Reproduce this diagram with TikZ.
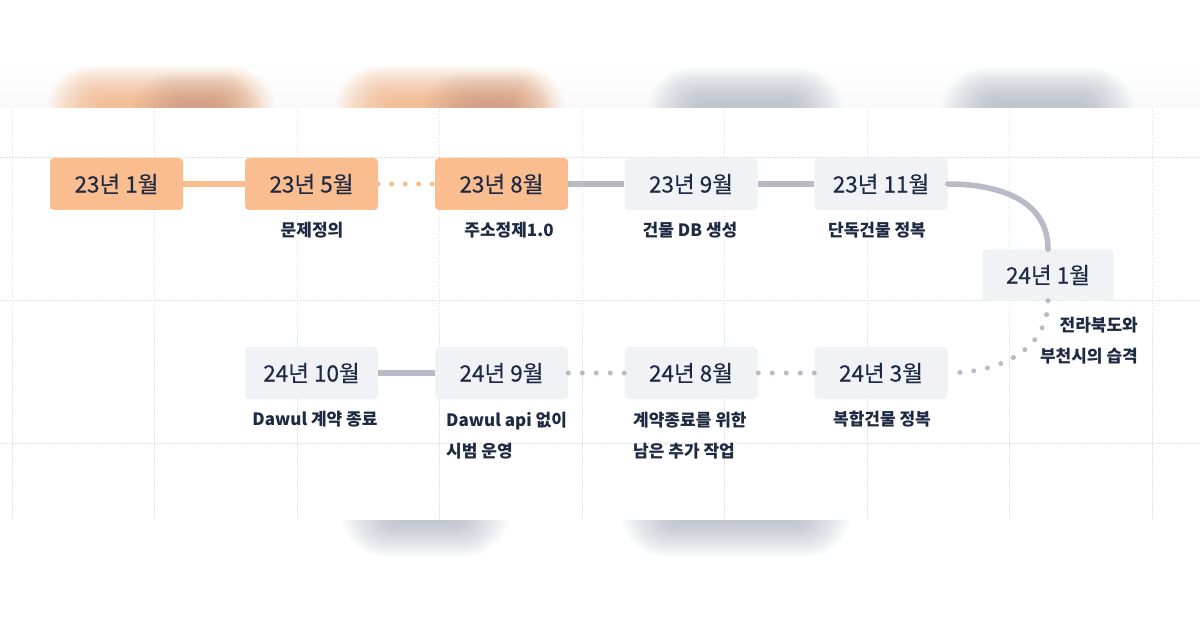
\documentclass[tikz,border=0pt]{standalone}
\usepackage{fontspec}
\newfontfamily\kr{Noto Sans CJK KR}
\newfontfamily\krm[FakeBold=0.35]{Noto Sans CJK KR}
\definecolor{navy}{RGB}{30,41,66}
\definecolor{peach}{RGB}{249,189,143}
\definecolor{boxgray}{RGB}{240,242,245}
\definecolor{linegray}{RGB}{184,187,199}
\definecolor{gridc}{RGB}{222,225,230}
\definecolor{blurorange}{RGB}{244,165,108}
\definecolor{blurbrown}{RGB}{180,135,120}
\definecolor{blurgray}{RGB}{155,162,180}
\newcommand\blurpatch[6]{%
  \foreach \k in {0,...,17}{%
    \pgfmathsetmacro\rc{6+2.2*\k}%
    \fill[#1, opacity=#6, rounded corners=\rc pt] ({#2-3*\k},{#3-2*\k}) rectangle ({#4+3*\k},{#5+2*\k});
  }%
}
\begin{document}
\begin{tikzpicture}[x=1pt,y=-1pt,
  datebox/.style={rounded corners=4pt, minimum width=133pt, minimum height=52pt, inner sep=0pt,
    font=\krm\fontsize{22.5}{26}\selectfont, text=navy},
  hot/.style={datebox, fill=peach},
  cool/.style={datebox, fill=boxgray},
  desc/.style={font=\kr\bfseries\fontsize{17}{31}\selectfont, text=navy, inner sep=0pt},
  solidO/.style={draw=peach, line width=5.5pt},
  dotO/.style={draw=peach, line width=5pt, line cap=round, dash pattern=on 0pt off 13.5pt},
  solidG/.style={draw=linegray, line width=5.5pt},
  dotG/.style={draw=linegray, line width=5pt, line cap=round, dash pattern=on 0pt off 14pt},
  gridline/.style={draw=gridc, line width=0.8pt, dash pattern=on 1.5pt off 1.5pt}
]
\useasboundingbox (0,0) rectangle (1200,628);
\fill[white] (0,0) rectangle (1200,628);
\shade[top color=white, bottom color=gray!4] (0,60) rectangle (1200,108);

% blurred reflections (top)
\begin{scope}
  \clip (0,0) rectangle (1200,108);
  \blurpatch{blurorange}{98}{100}{224}{150}{0.055}
  \blurpatch{blurbrown}{182}{106}{212}{150}{0.03}
  \blurpatch{blurorange}{386}{100}{514}{150}{0.055}
  \blurpatch{blurbrown}{472}{106}{504}{150}{0.03}
  \blurpatch{blurgray}{698}{102}{792}{150}{0.045}
  \blurpatch{blurgray}{992}{102}{1084}{150}{0.045}
\end{scope}
% blurred reflections (bottom)
\begin{scope}
  \clip (0,520) rectangle (1200,628);
  \blurpatch{blurgray}{392}{480}{458}{522}{0.045}
  \blurpatch{blurgray}{672}{480}{800}{522}{0.045}
\end{scope}

% grid
\fill[white] (0,108) rectangle (1200,520);
\foreach \gx in {0,...,8}{
  \draw[gridline] ({12+142.5*\gx},108) -- ({12+142.5*\gx},520);
}
\foreach \gy in {157,300,443}{
  \draw[gridline] (0,\gy) -- (1200,\gy);
}

% date boxes
\node[hot]  (a1) at (116.5,184) {23년 1월};
\node[hot]  (a2) at (311.5,184) {23년 5월};
\node[hot]  (a3) at (501.5,184) {23년 8월};
\node[cool] (a4) at (691,184) {23년 9월};
\node[cool] (a5) at (881,184) {23년 11월};
\node[cool, minimum width=131pt, minimum height=51pt] (b) at (1048,275) {24년 1월};
\node[cool] (c1) at (881,373) {24년 3월};
\node[cool] (c2) at (691,373) {24년 8월};
\node[cool] (c3) at (501.5,373) {24년 9월};
\node[cool] (c4) at (311.5,373) {24년 10월};

% connectors
\draw[solidO] (a1.east) -- (a2.west);
\draw[dotO] (a2.east) -- (a3.west);
\draw[solidG] (a3.east) -- (a4.west);
\draw[solidG] (a4.east) -- (a5.west);
\draw[solidG, line cap=round] (a5.east) .. controls +(50,0) and +(0,-50) .. (b.north);
\draw[dotG] (b.south) .. controls +(0,50) and +(50,0) .. (c1.east);
\draw[dotG] (c1.west) -- (c2.east);
\draw[dotG] (c2.west) -- (c3.east);
\draw[solidG] (c3.west) -- (c4.east);

% descriptions
\node[desc] (d2) at (312,230) {문제정의};
\node[desc] (d3) at (509,230) {주소정제1.0};
\node[desc] (d4) at (690,230) {건물 DB 생성};
\node[desc] (d5) at (877,230) {단독건물 정복};
\node[desc, anchor=east, align=right] (d6) at (1138,341) {전라북도와\\부천시의 습격};
\node[desc] (d7) at (882,419) {복합건물 정복};
\node[desc, anchor=west, align=left] (d8) at (633,436) {계약종료를 위한\\남은 추가 작업};
\node[desc, anchor=west, align=left] (d9) at (446,436) {Dawul api 없이\\시범 운영};
\node[desc] (d10) at (315,419) {Dawul 계약 종료};
\end{tikzpicture}
\end{document}
